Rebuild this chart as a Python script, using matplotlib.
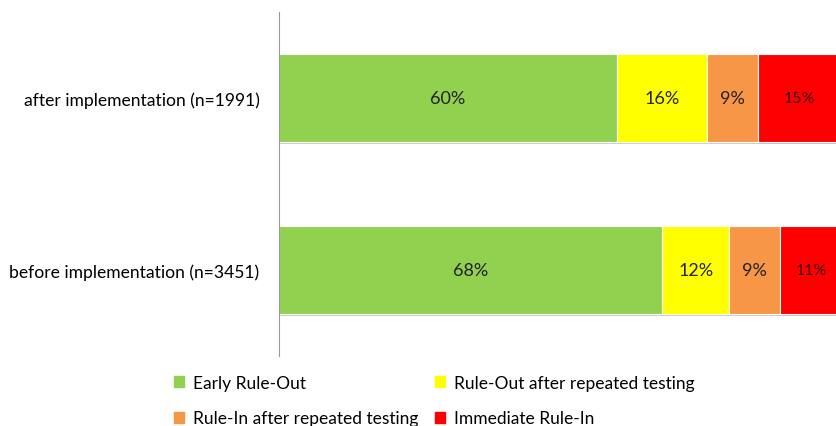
import matplotlib.pyplot as plt
import matplotlib.patheffects as pe
from matplotlib.patches import Patch

plt.rcParams['font.family'] = ['Lato', 'DejaVu Sans']

# data
groups = ['before implementation (n=3451)', 'after implementation (n=1991)']
series = ['Early Rule-Out', 'Rule-Out after repeated testing',
          'Rule-In after repeated testing', 'Immediate Rule-In']
early_out = [68, 60]
repeat_out = [12, 16]
repeat_in = [9, 9]
immediate_in = [11, 15]
colors = ['#92D050', '#FFFF00', '#F79646', '#FF0000']
label_colors = ['#222222', '#222222', '#222222', '#3a0000']

values = [early_out, repeat_out, repeat_in, immediate_in]

fig = plt.figure(figsize=(8.36, 4.27), dpi=100)
ax = fig.add_axes([279 / 836, 70 / 427, 563 / 836, 344 / 427])

shadow = [pe.SimplePatchShadow(offset=(0.5, -1.5), alpha=0.25), pe.Normal()]
left = [0, 0]
for vals, col, tc, name in zip(values, colors, label_colors, series):
    bars = ax.barh(range(len(groups)), vals, left=left, height=0.506,
                   color=col, edgecolor='white', linewidth=0.8, label=name)
    for b in bars:
        b.set_path_effects(shadow)
    for i, v in enumerate(vals):
        ax.text(left[i] + v / 2, i, f'{v}%', ha='center', va='center',
                fontsize=13 if col != '#FF0000' else 11.5, color=tc)
    left = [l + v for l, v in zip(left, vals)]

ax.set_xlim(0, 100)
ax.set_ylim(-0.5, 1.5)
ax.set_yticks(range(len(groups)))
ax.set_yticklabels(groups, fontsize=12.6)
ax.tick_params(axis='y', length=0, pad=14)
ax.set_xticks([])
for s in ['top', 'right', 'bottom']:
    ax.spines[s].set_visible(False)
ax.spines['left'].set_color('#999999')

handles = [Patch(color=c) for c in colors]
order = [0, 2, 1, 3]
fig.legend([handles[i] for i in order], [series[i] for i in order],
           ncol=2, loc='lower left', bbox_to_anchor=(158 / 836, -0.037),
           frameon=False, fontsize=12.5, handlelength=0.6, handleheight=0.6,
           handletextpad=0.5, columnspacing=0.95, labelspacing=1.1)

fig.savefig('out.png', dpi=100)
